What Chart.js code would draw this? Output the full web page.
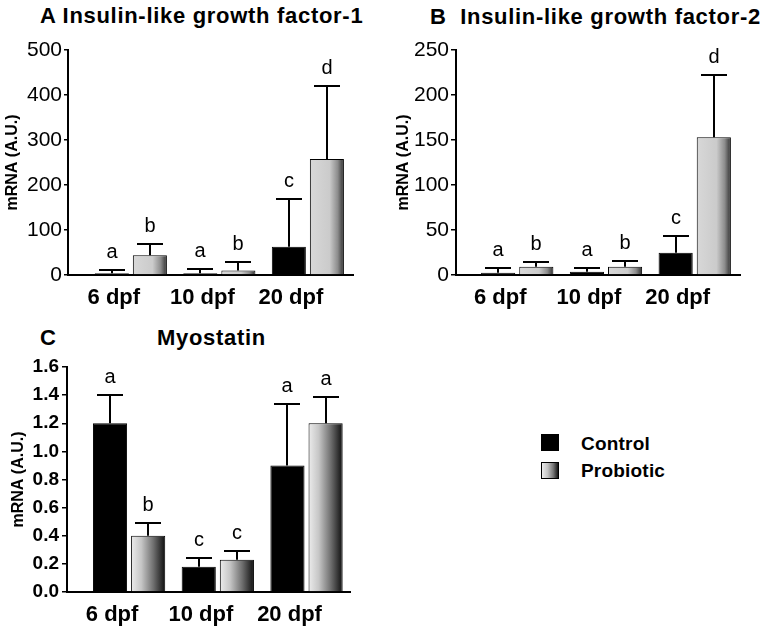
<!DOCTYPE html>
<html>
<head>
<meta charset="utf-8">
<script src="https://cdn.jsdelivr.net/npm/chart.js@4.4.1/dist/chart.umd.min.js"></script>
<style>
  html, body { margin: 0; padding: 0; background: #fff; }
  body { width: 761px; height: 633px; position: relative; overflow: hidden;
         font-family: "Liberation Sans", Arial, sans-serif; color: #000; }
  canvas { position: absolute; }
  .ttl { position: absolute; font-weight: bold; font-size: 22px; line-height: 22px; white-space: pre; letter-spacing: 0.7px; }
  .leg-box { position: absolute; width: 18px; height: 17px; box-sizing: border-box; border: 1px solid #000; }
  .leg-txt { position: absolute; font-weight: bold; font-size: 19px; line-height: 19px; letter-spacing: 0.2px; }
</style>
</head>
<body>
  <div class="ttl" style="left:40px;top:5px">A Insulin-like growth factor-1</div>
  <div class="ttl" style="left:430px;top:6px">B  Insulin-like growth factor-2</div>
  <div class="ttl" style="left:40px;top:327px">C</div>
  <div class="ttl" style="left:157px;top:327px">Myostatin</div>

  <canvas id="chart-igf1" width="380" height="310" style="left:0;top:0;width:380px;height:310px"></canvas>
  <canvas id="chart-igf2" width="381" height="310" style="left:380px;top:0;width:381px;height:310px"></canvas>
  <canvas id="chart-mstn" width="380" height="323" style="left:0;top:310px;width:380px;height:323px"></canvas>

  <div class="leg-box" style="left:541px;top:434px;background:#000"></div>
  <div class="leg-txt" style="left:581px;top:434px">Control</div>
  <div class="leg-box" style="left:541px;top:462px;background:linear-gradient(to right,#ececec,#c4c4c4 35%,#777 70%,#151515)"></div>
  <div class="leg-txt" style="left:581px;top:461px">Probiotic</div>

<script>
const DPF = ['6 dpf', '10 dpf', '20 dpf'];
const SERIES = ['Control', 'Probiotic'];
const Y_TITLE = 'mRNA (A.U.)';

// A: insulin-like growth factor-1
const igf1Control = [4, 4, 63];
const igf1ControlErr = [11, 13, 169];
const igf1Probiotic = [44, 10, 258];
const igf1ProbioticErr = [70, 28, 420];
const igf1ControlLetters = ['a', 'a', 'c'];
const igf1ProbioticLetters = ['b', 'b', 'd'];
const igf1Ticks = [0, 100, 200, 300, 400, 500];

// B: insulin-like growth factor-2
const igf2Control = [2.6, 3.7, 24.8];
const igf2ControlErr = [7.4, 8.1, 43.7];
const igf2Probiotic = [9.3, 9.3, 153];
const igf2ProbioticErr = [14.4, 15.9, 222.6];
const igf2ControlLetters = ['a', 'a', 'c'];
const igf2ProbioticLetters = ['b', 'b', 'd'];
const igf2Ticks = [0, 50, 100, 150, 200, 250];

// C: myostatin
const mstnControl = [1.20, 0.18, 0.90];
const mstnControlErr = [1.40, 0.24, 1.34];
const mstnProbiotic = [0.40, 0.23, 1.20];
const mstnProbioticErr = [0.49, 0.29, 1.39];
const mstnControlLetters = ['a', 'c', 'a'];
const mstnProbioticLetters = ['b', 'c', 'a'];
const mstnTicks = [0, 0.2, 0.4, 0.6, 0.8, 1.0, 1.2, 1.4, 1.6];

const CAT_PCT = 0.86;
const BAR_PCT = 0.895;
const FONT = '"Liberation Sans", Arial, sans-serif';

Chart.defaults.font.family = FONT;
Chart.defaults.color = '#000';

// gradient stops for the probiotic bars (A/B are flatter, C runs light to black)
const GRAD_IGF = [[0, '#d8d8d8'], [0.58, '#cbcbcb'], [0.82, '#8c8c8c'], [1, '#2e2e2e']];
const GRAD_MSTN = [[0, '#ececec'], [0.3, '#c6c6c6'], [0.65, '#707070'], [1, '#0e0e0e']];

function probioticFill(stops) {
  return (c) => {
    const chart = c.chart;
    const xs = chart.scales.x;
    if (!xs || !chart.chartArea) return '#cccccc';
    const unit = xs.getPixelForValue(1) - xs.getPixelForValue(0);
    const chunk = unit * CAT_PCT / 2;
    const center = xs.getPixelForValue(c.dataIndex) + chunk / 2;
    const half = chunk * BAR_PCT / 2;
    const g = chart.ctx.createLinearGradient(center - half, 0, center + half, 0);
    stops.forEach(([o, col]) => g.addColorStop(o, col));
    return g;
  };
}

// error bars (upper only) and significance letters, placed through the scales
const errorBars = {
  id: 'errorBars',
  afterDatasetsDraw(chart, args, opts) {
    const { ctx } = chart;
    const y = chart.scales.y;
    ctx.save();
    ctx.strokeStyle = '#000';
    ctx.lineWidth = 2;
    ctx.fillStyle = '#000';
    ctx.font = `20px ${FONT}`;
    ctx.textAlign = 'center';
    ctx.textBaseline = 'alphabetic';
    chart.data.datasets.forEach((ds, di) => {
      const meta = chart.getDatasetMeta(di);
      meta.data.forEach((bar, i) => {
        const top = Math.round(y.getPixelForValue(opts.tops[di][i]));
        const x = Math.round(bar.x);
        ctx.beginPath();
        ctx.moveTo(x, bar.y);
        ctx.lineTo(x, top);
        ctx.moveTo(x - 13, top);
        ctx.lineTo(x + 13, top);
        ctx.stroke();
        ctx.fillText(opts.letters[di][i], x, top - 12);
      });
    });
    ctx.restore();
  },
};

function makePanel(p) {
  const toPoints = (arr) => arr.map((v, i) => ({ x: i, y: v }));
  return new Chart(document.getElementById(p.canvas), {
    type: 'bar',
    data: {
      datasets: [
        {
          label: SERIES[0],
          data: toPoints(p.control),
          backgroundColor: '#000',
          borderColor: '#000',
          borderWidth: 1,
        },
        {
          label: SERIES[1],
          data: toPoints(p.probiotic),
          backgroundColor: probioticFill(p.grad),
          borderColor: '#000',
          borderWidth: 1,
        },
      ],
    },
    options: {
      responsive: false,
      animation: false,
      events: [],
      categoryPercentage: CAT_PCT,
      barPercentage: BAR_PCT,
      layout: { padding: p.padding },
      plugins: {
        legend: { display: false },
        tooltip: { enabled: false },
        title: { display: false },
        errorBars: { tops: [p.controlErr, p.probioticErr], letters: [p.controlLetters, p.probioticLetters] },
      },
      scales: {
        x: {
          type: 'linear',
          offset: false,
          min: p.xMin,
          max: p.xMax,
          afterBuildTicks: (s) => { s.ticks = DPF.map((_, i) => ({ value: i })); },
          afterFit: (s) => { s.height = p.xHeight; },
          ticks: {
            callback: (v) => DPF[v],
            autoSkip: false,
            maxRotation: 0,
            padding: 10,
            labelOffset: -17,
            color: '#000',
            font: { size: 22, weight: 'bold' },
          },
          grid: { display: false, drawTicks: false },
          border: { display: true, color: '#000', width: 2 },
        },
        y: {
          type: 'linear',
          min: 0,
          max: p.yTicks[p.yTicks.length - 1],
          afterBuildTicks: (s) => { s.ticks = p.yTicks.map((v) => ({ value: v })); },
          afterFit: (s) => { s.width = p.yWidth; },
          ticks: {
            callback: p.fmt,
            padding: p.tickPad,
            color: '#000',
            font: p.tickFont,
          },
          grid: { drawOnChartArea: false, drawTicks: true, tickLength: p.tickLen, color: '#000', lineWidth: 1.5 },
          border: { display: true, color: '#000', width: 2 },
          title: {
            display: true,
            text: Y_TITLE,
            color: '#000',
            font: { size: 16, weight: 'bold' },
            padding: { top: p.titlePad, bottom: 0 },
          },
        },
      },
    },
    plugins: [errorBars],
  });
}

makePanel({
  canvas: 'chart-igf1',
  control: igf1Control, controlErr: igf1ControlErr, controlLetters: igf1ControlLetters,
  probiotic: igf1Probiotic, probioticErr: igf1ProbioticErr, probioticLetters: igf1ProbioticLetters,
  yTicks: igf1Ticks, fmt: (v) => String(v),
  grad: GRAD_IGF,
  padding: { top: 50, right: 27, left: 0, bottom: 0 },
  yWidth: 68, xHeight: 35, xMin: -0.71, xMax: 2.51,
  titlePad: 3, tickPad: 2, tickLen: 4,
  tickFont: { size: 21, weight: 'normal' },
});

makePanel({
  canvas: 'chart-igf2',
  control: igf2Control, controlErr: igf2ControlErr, controlLetters: igf2ControlLetters,
  probiotic: igf2Probiotic, probioticErr: igf2ProbioticErr, probioticLetters: igf2ProbioticLetters,
  yTicks: igf2Ticks, fmt: (v) => String(v),
  grad: GRAD_IGF,
  padding: { top: 50, right: 21, left: 0, bottom: 0 },
  yWidth: 76, xHeight: 35, xMin: -0.69, xMax: 2.51,
  titlePad: 14, tickPad: 2, tickLen: 5,
  tickFont: { size: 21, weight: 'normal' },
});

makePanel({
  canvas: 'chart-mstn',
  control: mstnControl, controlErr: mstnControlErr, controlLetters: mstnControlLetters,
  probiotic: mstnProbiotic, probioticErr: mstnProbioticErr, probioticLetters: mstnProbioticLetters,
  yTicks: mstnTicks, fmt: (v) => v.toFixed(1),
  grad: GRAD_MSTN,
  padding: { top: 57, right: 30, left: 0, bottom: 0 },
  yWidth: 67, xHeight: 41, xMin: -0.70, xMax: 2.49,
  titlePad: 9, tickPad: 3, tickLen: 5,
  tickFont: { size: 19, weight: 'bold' },
});
</script>
</body>
</html>
